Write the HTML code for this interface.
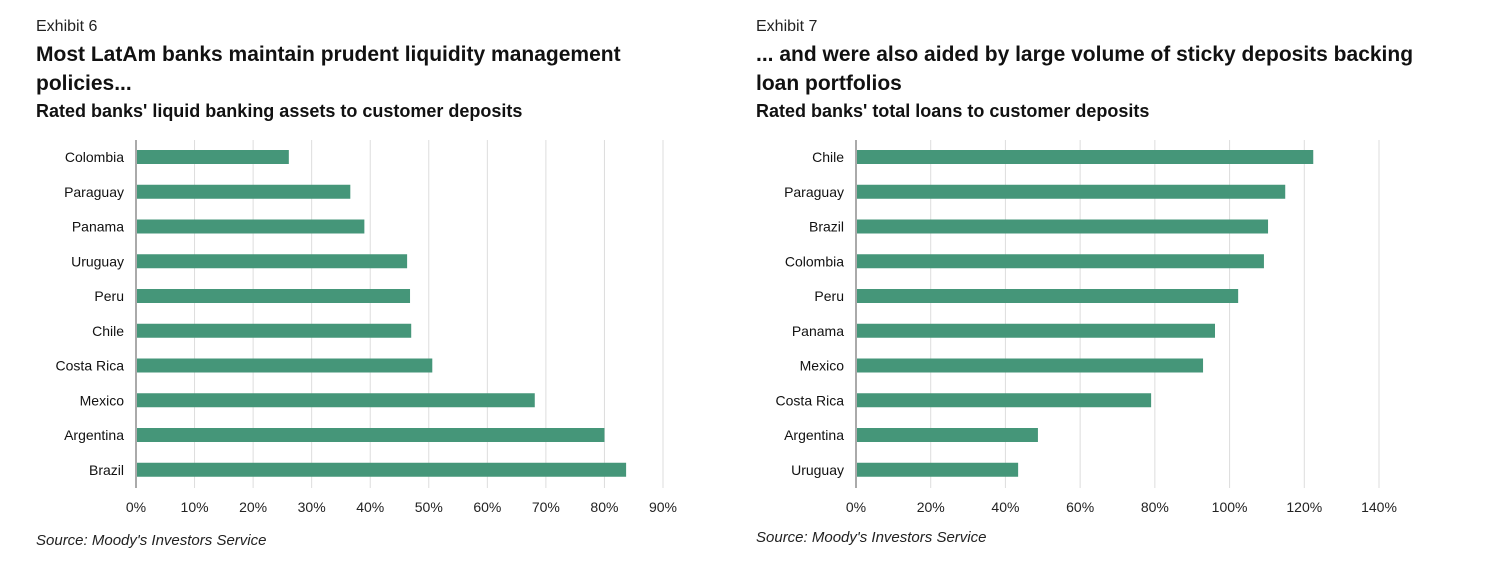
<!DOCTYPE html>
<html><head><meta charset="utf-8"><style>
body{margin:0;width:1490px;height:574px;background:#fff;overflow:hidden;font-family:"Liberation Sans",sans-serif;color:#111}
.t{position:absolute;white-space:nowrap}
.ex{font-size:16px;color:#222}
.h{font-size:21px;font-weight:bold;line-height:29px}
.s{font-size:18px;font-weight:bold}
.src{font-size:15px;font-style:italic;color:#222}
svg{position:absolute;left:0;top:0}
</style></head><body>
<div class="t ex" style="left:36px;top:18px">Exhibit 6</div>
<div class="t h" style="left:36px;top:40px">Most LatAm banks maintain prudent liquidity management<br>policies...</div>
<div class="t s" style="left:36px;top:101px">Rated banks' liquid banking assets to customer deposits</div>
<div class="t src" style="left:36px;top:532px">Source: Moody's Investors Service</div>
<div class="t ex" style="left:756px;top:18px">Exhibit 7</div>
<div class="t h" style="left:756px;top:40px">... and were also aided by large volume of sticky deposits backing<br>loan portfolios</div>
<div class="t s" style="left:756px;top:101px">Rated banks' total loans to customer deposits</div>
<div class="t src" style="left:756px;top:529px">Source: Moody's Investors Service</div>
<svg width="1490" height="574" id="svg"></svg>
<script>
const leftCats=["Colombia","Paraguay","Panama","Uruguay","Peru","Chile","Costa Rica","Mexico","Argentina","Brazil"];
const leftVals=[26.1,36.6,39,46.3,46.8,47,50.6,68.1,80,83.7];
const leftTicks=[0,10,20,30,40,50,60,70,80,90];
const rightCats=["Chile","Paraguay","Brazil","Colombia","Peru","Panama","Mexico","Costa Rica","Argentina","Uruguay"];
const rightVals=[122.4,114.9,110.3,109.2,102.3,96.1,92.9,79,48.7,43.4];
const rightTicks=[0,20,40,60,80,100,120,140];
const svg=document.getElementById('svg');
const NS='http://www.w3.org/2000/svg';
function mk(tag,attrs){const e=document.createElementNS(NS,tag);for(const k in attrs)e.setAttribute(k,attrs[k]);svg.appendChild(e);return e;}
function chart(id,cats,vals,ticks,x0,x1,tickMax){
  const sx=v=>x0+(x1-x0)*v/tickMax;
  const yc=i=>157+i*34.75;
  ticks.forEach(t=>{
    const g=mk('line',{x1:sx(t),x2:sx(t),y1:140,y2:488,stroke:t===0?'#555':'#ddd','stroke-width':1});
    
    
    const l=mk('text',{x:sx(t),y:512,'text-anchor':'middle','font-size':14,fill:'#222','font-family':'Liberation Sans, sans-serif'});
    l.textContent=t+'%';
    
    
  });
  cats.forEach((c,i)=>{
    const r=mk('rect',{x:x0+1,y:yc(i)-7,width:sx(vals[i])-x0-1,height:14,fill:'#459679'});
    
    
    const l=mk('text',{x:x0-12,y:yc(i)+5,'text-anchor':'end','font-size':14,fill:'#111','font-family':'Liberation Sans, sans-serif'});
    l.textContent=c;
    
    
  });
}
chart('left',leftCats,leftVals,leftTicks,136,663,90);
chart('right',rightCats,rightVals,rightTicks,856,1379,140);
</script>
</body></html>
